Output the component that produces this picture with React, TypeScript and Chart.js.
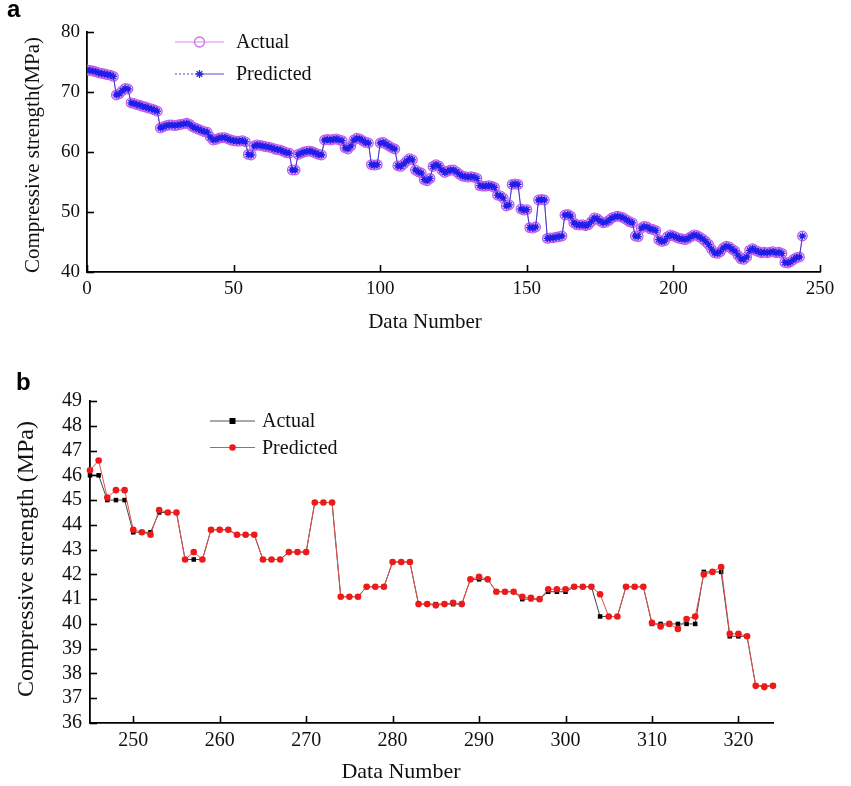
import React, { useEffect, useRef } from "react";
import { Chart, registerables } from "chart.js";

Chart.register(...registerables);

const SERIF = "'Liberation Serif', 'Times New Roman', serif";

// ---------- Panel a data (Data Number 0..244) ----------
const actualA = [
  73.7, 73.6, 73.5, 73.4, 73.2, 73.1, 73.0, 72.9, 72.8, 72.6,
  69.5, 69.7, 70.2, 70.6, 70.5,
  68.2, 68.1, 67.9, 67.8, 67.6, 67.5, 67.3, 67.2, 67.0, 66.8,
  64.0, 64.2, 64.4, 64.5, 64.5, 64.4, 64.5, 64.6, 64.7, 64.8, 64.6,
  64.2, 64.0, 63.8, 63.6, 63.4, 63.3, 62.5,
  62.0, 62.1, 62.3, 62.4, 62.4, 62.2, 62.0, 61.9, 61.8, 61.8, 61.9, 61.7,
  59.6, 59.5, 61.0, 61.2, 61.1,
  61.0, 60.9, 60.8, 60.7, 60.5, 60.4, 60.3, 60.1, 59.9, 59.8,
  57.0, 57.0,
  59.6, 59.8, 60.0, 60.1, 60.2, 60.0, 59.8, 59.6, 59.5,
  62.0, 62.1, 62.0, 62.1, 62.2, 62.0, 61.9,
  60.7, 60.5, 61.0,
  62.0, 62.3, 62.2, 61.9, 61.6, 61.5,
  57.9, 57.8, 57.9,
  61.5, 61.6, 61.3, 61.0, 60.7, 60.5,
  57.7, 57.6, 58.0,
  58.5, 58.9, 58.7,
  57.0, 56.7, 56.5,
  55.4, 55.2, 55.6,
  57.6, 57.9, 57.7, 57.0,
  56.6, 56.8, 57.0, 57.0, 56.7, 56.3,
  56.0, 55.9, 55.8, 55.9, 55.8, 55.6,
  54.4, 54.3, 54.3, 54.4, 54.3, 54.1,
  52.8, 52.7, 52.3,
  51.0, 51.2,
  54.6, 54.7, 54.6,
  50.5, 50.3, 50.4,
  47.4, 47.3, 47.5,
  52.0, 52.1, 52.0,
  45.6, 45.7, 45.7, 45.8, 45.9, 46.0,
  49.5, 49.6, 49.3,
  48.2, 47.9, 47.8, 47.9, 47.7, 47.9, 48.4,
  49.0, 48.9, 48.5,
  48.2, 48.3, 48.6,
  49.0, 49.2, 49.3, 49.2, 49.0,
  48.7, 48.4, 48.2,
  46.0, 45.9,
  47.3, 47.6, 47.5, 47.2, 47.1,
  46.9, 45.4, 45.1, 45.2,
  45.9, 46.2, 46.0, 45.8, 45.6, 45.5,
  45.4, 45.6, 45.9,
  46.2, 46.1, 45.8, 45.5,
  45.1, 44.6, 43.8,
  43.2, 43.1, 43.4,
  44.0, 44.3, 44.2, 43.8,
  43.5, 42.8,
  42.2, 42.1, 42.5,
  43.6, 43.9, 43.6, 43.4,
  43.2, 43.3, 43.2, 43.3, 43.4, 43.2, 43.3, 43.1,
  41.6, 41.5, 41.7,
  42.1, 42.4, 42.5,
  46.0,
];
// At this scale the predicted series coincides with the actual one.
const predictedA = actualA;
const xTicksA = [0, 50, 100, 150, 200, 250];
const yTicksA = [40, 50, 60, 70, 80];

// ---------- Panel b data (Data Number 245..324) ----------
const startB = 245;
const actualB = [
  46.0, 46.0, 45.0, 45.0, 45.0, 43.7, 43.7, 43.7, 44.5, 44.5,
  44.5, 42.6, 42.6, 42.6, 43.8, 43.8, 43.8, 43.6, 43.6, 43.6,
  42.6, 42.6, 42.6, 42.9, 42.9, 42.9, 44.9, 44.9, 44.9, 41.1,
  41.1, 41.1, 41.5, 41.5, 41.5, 42.5, 42.5, 42.5, 40.8, 40.8,
  40.8, 40.8, 40.8, 40.8, 41.8, 41.8, 41.8, 41.3, 41.3, 41.3,
  41.0, 41.0, 41.0, 41.3, 41.3, 41.3, 41.5, 41.5, 41.5, 40.3,
  40.3, 40.3, 41.5, 41.5, 41.5, 40.0, 40.0, 40.0, 40.0, 40.0,
  40.0, 42.1, 42.1, 42.1, 39.5, 39.5, 39.5, 37.5, 37.5, 37.5,
];
const predictedB = [
  46.2, 46.6, 45.1, 45.4, 45.4, 43.8, 43.7, 43.6, 44.6, 44.5,
  44.5, 42.6, 42.9, 42.6, 43.8, 43.8, 43.8, 43.6, 43.6, 43.6,
  42.6, 42.6, 42.6, 42.9, 42.9, 42.9, 44.9, 44.9, 44.9, 41.1,
  41.1, 41.1, 41.5, 41.5, 41.5, 42.5, 42.5, 42.5, 40.8, 40.8,
  40.75, 40.8, 40.85, 40.8, 41.8, 41.9, 41.8, 41.3, 41.3, 41.3,
  41.1, 41.05, 41.0, 41.4, 41.4, 41.4, 41.5, 41.5, 41.5, 41.2,
  40.3, 40.3, 41.5, 41.5, 41.5, 40.05, 39.9, 40.0, 39.8, 40.2,
  40.3, 42.0, 42.1, 42.3, 39.6, 39.6, 39.5, 37.5, 37.45, 37.5,
];
const xTicksB = [250, 260, 270, 280, 290, 300, 310, 320];
const yTicksB = [36, 37, 38, 39, 40, 41, 42, 43, 44, 45, 46, 47, 48, 49];

// ---------- helpers ----------
type Marker = "circleOpen" | "star" | "square" | "dot";

function drawMarker(ctx: CanvasRenderingContext2D, kind: Marker, x: number, y: number, color: string) {
  ctx.save();
  ctx.strokeStyle = color;
  ctx.fillStyle = color;
  if (kind === "circleOpen") {
    ctx.lineWidth = 1.3;
    ctx.beginPath();
    ctx.arc(x, y, 5, 0, Math.PI * 2);
    ctx.stroke();
  } else if (kind === "star") {
    ctx.lineWidth = 1.3;
    const r = 4;
    ctx.beginPath();
    for (let k = 0; k < 4; k++) {
      const a = (k * Math.PI) / 4;
      ctx.moveTo(x - r * Math.cos(a), y - r * Math.sin(a));
      ctx.lineTo(x + r * Math.cos(a), y + r * Math.sin(a));
    }
    ctx.stroke();
  } else if (kind === "square") {
    ctx.fillRect(x - 3, y - 3, 6, 6);
  } else {
    ctx.beginPath();
    ctx.arc(x, y, 3.3, 0, Math.PI * 2);
    ctx.fill();
  }
  ctx.restore();
}

interface LegendItem {
  label: string;
  y: number;
  lineColor: string;
  marker: Marker;
  markerColor: string;
  dottedLeft?: boolean;
}

interface Decor {
  tickLen: number;
  xTitle: { text: string; x: number; y: number; size: number };
  yTitle: { text: string; x: number; y: number; size: number };
  legend: { x0: number; x1: number; xm: number; xt: number; size: number; items: LegendItem[] };
}

function decorPlugin(d: Decor) {
  return {
    id: "decor",
    afterDraw(chart: any) {
      const { ctx, chartArea, scales } = chart;
      ctx.save();
      // inward tick marks
      ctx.strokeStyle = "#000";
      ctx.lineWidth = 1.6;
      scales.x.ticks.forEach((t: any) => {
        const px = Math.round(scales.x.getPixelForValue(t.value)) + 0.5;
        ctx.beginPath();
        ctx.moveTo(px, chartArea.bottom);
        ctx.lineTo(px, chartArea.bottom - d.tickLen);
        ctx.stroke();
      });
      scales.y.ticks.forEach((t: any) => {
        const py = Math.round(scales.y.getPixelForValue(t.value)) + 0.5;
        ctx.beginPath();
        ctx.moveTo(chartArea.left, py);
        ctx.lineTo(chartArea.left + d.tickLen, py);
        ctx.stroke();
      });
      // titles
      ctx.fillStyle = "#111";
      ctx.textBaseline = "middle";
      ctx.textAlign = "center";
      ctx.font = `${d.xTitle.size}px ${SERIF}`;
      ctx.fillText(d.xTitle.text, d.xTitle.x, d.xTitle.y);
      ctx.save();
      ctx.translate(d.yTitle.x, d.yTitle.y);
      ctx.rotate(-Math.PI / 2);
      ctx.font = `${d.yTitle.size}px ${SERIF}`;
      ctx.fillText(d.yTitle.text, 0, 0);
      ctx.restore();
      // legend
      const L = d.legend;
      L.items.forEach((it) => {
        ctx.save();
        ctx.strokeStyle = it.lineColor;
        ctx.lineWidth = 1;
        if (it.dottedLeft) {
          ctx.setLineDash([2, 2]);
          ctx.beginPath();
          ctx.moveTo(L.x0, it.y);
          ctx.lineTo(L.xm, it.y);
          ctx.stroke();
          ctx.setLineDash([]);
          ctx.beginPath();
          ctx.moveTo(L.xm, it.y);
          ctx.lineTo(L.x1, it.y);
          ctx.stroke();
        } else {
          ctx.beginPath();
          ctx.moveTo(L.x0, it.y);
          ctx.lineTo(L.x1, it.y);
          ctx.stroke();
        }
        ctx.restore();
        drawMarker(ctx, it.marker, L.xm, it.y, it.markerColor);
        ctx.fillStyle = "#111";
        ctx.textAlign = "left";
        ctx.textBaseline = "middle";
        ctx.font = `${L.size}px ${SERIF}`;
        ctx.fillText(it.label, L.xt, it.y + 1);
      });
      ctx.restore();
    },
  };
}

function axis(opts: {
  min: number;
  max: number;
  ticks: number[];
  size: number;
  padding: number;
  fit: (s: any) => void;
}) {
  return {
    type: "linear",
    min: opts.min,
    max: opts.max,
    afterBuildTicks: (s: any) => {
      s.ticks = opts.ticks.map((v) => ({ value: v }));
    },
    afterFit: opts.fit,
    grid: { display: false, drawTicks: false },
    border: { display: true, color: "#000", width: 1.8 },
    ticks: {
      color: "#111",
      font: { family: SERIF, size: opts.size },
      padding: opts.padding,
      autoSkip: false,
      maxRotation: 0,
    },
  };
}

function ChartBox({ top, height, makeConfig }: { top: number; height: number; makeConfig: () => any }) {
  const ref = useRef<HTMLCanvasElement>(null);
  useEffect(() => {
    const chart = new Chart(ref.current as HTMLCanvasElement, makeConfig());
    return () => chart.destroy();
  }, []);
  return (
    <div style={{ position: "absolute", left: 0, top, width: 851, height }}>
      <canvas ref={ref} />
    </div>
  );
}

function configA() {
  return {
    type: "line",
    data: {
      datasets: [
        {
          label: "Predicted",
          data: predictedA.map((v, i) => ({ x: i, y: v })),
          borderColor: "#3a3ad0",
          borderWidth: 1,
          pointStyle: "star",
          pointRadius: 3.6,
          pointBorderColor: "#1e1ee8",
          pointBorderWidth: 1.3,
          pointBackgroundColor: "#1e1ee8",
          order: 0,
        },
        {
          label: "Actual",
          data: actualA.map((v, i) => ({ x: i, y: v })),
          borderColor: "#d98ae6",
          borderWidth: 1,
          pointStyle: "circle",
          pointRadius: 4.8,
          pointBorderColor: "#c25ae8",
          pointBorderWidth: 1.2,
          pointBackgroundColor: "rgba(214,160,250,0.45)",
          order: 1,
        },
      ],
    },
    options: {
      responsive: true,
      maintainAspectRatio: false,
      animation: false,
      events: [],
      layout: { padding: { left: 0, top: 32, right: 31, bottom: 0 } },
      plugins: { legend: { display: false }, tooltip: { enabled: false } },
      scales: {
        x: axis({ min: 0, max: 250, ticks: xTicksA, size: 19, padding: 6, fit: (s: any) => { s.height = 73; } }),
        y: axis({ min: 40, max: 80, ticks: yTicksA, size: 19, padding: 7, fit: (s: any) => { s.width = 87; } }),
      },
    },
    plugins: [
      decorPlugin({
        tickLen: 7,
        xTitle: { text: "Data Number", x: 425, y: 322, size: 21 },
        yTitle: { text: "Compressive strength(MPa)", x: 33, y: 155, size: 21 },
        legend: {
          x0: 175,
          x1: 224,
          xm: 199.5,
          xt: 236,
          size: 20,
          items: [
            { label: "Actual", y: 42, lineColor: "#dd88ee", marker: "circleOpen", markerColor: "#d070e8" },
            { label: "Predicted", y: 74, lineColor: "#5050c8", marker: "star", markerColor: "#2a2ae0", dottedLeft: true },
          ],
        },
      }),
    ],
  };
}

function configB() {
  return {
    type: "line",
    data: {
      datasets: [
        {
          label: "Predicted",
          data: predictedB.map((v, i) => ({ x: startB + i, y: v })),
          borderColor: "#e05050",
          borderWidth: 1,
          pointStyle: "circle",
          pointRadius: 3.3,
          pointBorderWidth: 0,
          pointBackgroundColor: "#ee1a1a",
          clip: false,
          order: 0,
        },
        {
          label: "Actual",
          data: actualB.map((v, i) => ({ x: startB + i, y: v })),
          borderColor: "#444",
          borderWidth: 1,
          pointStyle: "rect",
          pointRadius: 3.2,
          pointBorderWidth: 0,
          pointBackgroundColor: "#000",
          clip: false,
          order: 1,
        },
      ],
    },
    options: {
      responsive: true,
      maintainAspectRatio: false,
      animation: false,
      events: [],
      layout: { padding: { left: 0, top: 56, right: 78, bottom: 0 } },
      plugins: { legend: { display: false }, tooltip: { enabled: false } },
      scales: {
        x: axis({ min: 245, max: 324, ticks: xTicksB, size: 20, padding: 6, fit: (s: any) => { s.height = 63; } }),
        y: axis({ min: 36, max: 49, ticks: yTicksB, size: 20, padding: 8, fit: (s: any) => { s.width = 90; } }),
      },
    },
    plugins: [
      decorPlugin({
        tickLen: 7,
        xTitle: { text: "Data Number", x: 401, y: 427, size: 22 },
        yTitle: { text: "Compressive strength (MPa)", x: 27, y: 214, size: 24 },
        legend: {
          x0: 210,
          x1: 255,
          xm: 232.5,
          xt: 262,
          size: 20,
          items: [
            { label: "Actual", y: 76, lineColor: "#555", marker: "square", markerColor: "#000" },
            { label: "Predicted", y: 102.5, lineColor: "#e05050", marker: "dot", markerColor: "#ee1a1a" },
          ],
        },
      }),
    ],
  };
}

export default function App() {
  const letter: React.CSSProperties = {
    position: "absolute",
    fontFamily: "'Liberation Sans', Arial, sans-serif",
    fontWeight: "bold",
    fontSize: 24,
    lineHeight: "24px",
    color: "#000",
  };
  return (
    <div style={{ position: "absolute", left: 0, top: 0, width: 851, height: 786, background: "#fff", overflow: "hidden" }}>
      <ChartBox top={0} height={345} makeConfig={configA} />
      <ChartBox top={345} height={441} makeConfig={configB} />
      <div style={{ ...letter, left: 7, top: -3 }}>a</div>
      <div style={{ ...letter, left: 16, top: 370 }}>b</div>
    </div>
  );
}
